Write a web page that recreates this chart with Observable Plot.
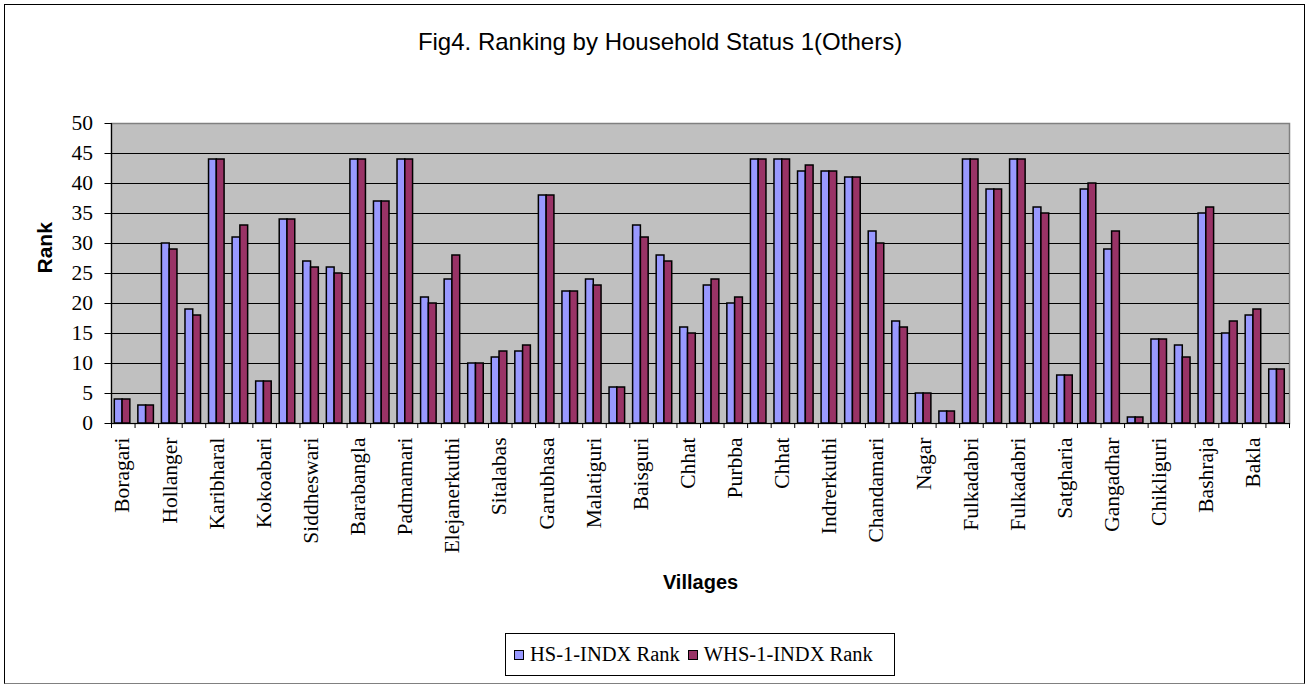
<!DOCTYPE html>
<html>
<head>
<meta charset="utf-8">
<script src="https://cdn.jsdelivr.net/npm/d3@7"></script>
<script src="https://cdn.jsdelivr.net/npm/@observablehq/plot@0.6"></script>
<style>
  html, body { margin: 0; padding: 0; background: #fff; overflow: hidden; }
  #wrap { position: relative; width: 1306px; height: 686px; }
  #border { position: absolute; left: 4px; top: 4px; width: 1301px; height: 680px; box-sizing: border-box; border: 1px solid #000; border-bottom-color: #808080; pointer-events: none; }
  #title { height: 73px; padding-top: 27px; line-height: 30px; font-family: "Liberation Sans", Arial, sans-serif; font-size: 24px; color: #000; text-align: center; padding-left: 14px; }
  #chart svg { display: block; }
  #legend { position: relative; margin-top: 18px; margin-left: 505px; width: 390px; height: 43px; box-sizing: border-box; border: 1px solid #000; display: flex; align-items: center; font-family: "Liberation Serif", "Times New Roman", serif; font-size: 20.5px; color: #000; }
  .item { display: flex; align-items: center; }
  .sw { width: 10px; height: 10px; box-sizing: border-box; border: 1px solid #000; margin-right: 6px; }
</style>
</head>
<body>
<div id="wrap">
  <div id="title">Fig4. Ranking by Household Status 1(Others)</div>
  <div id="chart"></div>
  <div id="legend"></div>
  <div id="border"></div>
</div>
<script>
const tickLabels = ["Boragari","Hollanger","Karibharal","Kokoabari","Siddheswari","Barabangla","Padmamari","Elejanerkuthi","Sitalabas","Garubhasa","Malatiguri","Baisguri","Chhat","Purbba","Chhat","Indrerkuthi","Chandamari","Nagar","Fulkadabri","Fulkadabri","Satgharia","Gangadhar","Chikliguri","Bashraja","Bakla"];
const hsRank  = [4,3,30,19,44,31,7,34,27,26,44,37,44,21,24,10,11,12,38,22,24,6,33,28,16,23,20,44,44,42,42,41,32,17,5,2,44,39,44,36,8,39,29,1,14,13,35,15,18,9];
const whsRank = [4,3,29,18,44,33,7,34,26,25,44,37,44,20,28,10,12,13,38,22,23,6,31,27,15,24,21,44,44,43,42,41,30,16,5,2,44,39,44,35,8,40,32,1,14,11,36,17,19,9];
const seriesNames = ["HS-1-INDX Rank", "WHS-1-INDX Rank"];
const seriesColors = ["#9999FF", "#993366"];
const yTicks = [0,5,10,15,20,25,30,35,40,45,50];

const nGroups = hsRank.length;
// position of bars within each category slot (fractions of a slot)
const gapL = 0.14, barW = 0.33;
const labelCenters = tickLabels.map((_, k) => 2 * k + gapL + barW);

const rows = [];
hsRank.forEach((v, i) => rows.push({i, s: 0, v}));
whsRank.forEach((v, i) => rows.push({i, s: 1, v}));

const chart = Plot.plot({
  width: 1306,
  height: 515,
  marginLeft: 111,
  marginRight: 17,
  marginTop: 23,
  marginBottom: 192,
  style: {fontFamily: "'Liberation Serif', 'Times New Roman', serif", fontSize: "21.5px", color: "#000", background: "transparent"},
  x: {domain: [0, nGroups]},
  y: {domain: [0, 50]},
  marks: [
    Plot.frame({fill: "#C0C0C0", stroke: "#808080", strokeWidth: 1.5}),
    Plot.ruleY(yTicks.filter(t => t > 0 && t < 50), {stroke: "#000", strokeWidth: 1}),
    Plot.rectY(rows, {
      x1: d => d.i + gapL + d.s * barW,
      x2: d => d.i + gapL + (d.s + 1) * barW,
      y1: 0,
      y2: "v",
      fill: d => seriesColors[d.s],
      stroke: "#000",
      strokeWidth: 1.5
    }),
    Plot.ruleX([0], {stroke: "#000", strokeWidth: 1.2}),
    Plot.ruleY([0], {stroke: "#000", strokeWidth: 1.2}),
    Plot.axisY({ticks: yTicks, tickSize: 6.5, tickPadding: 12, label: null, stroke: "#000", fill: "#000"}),
    Plot.axisX({ticks: d3.range(0, nGroups + 1), tickSize: 5, tickFormat: () => "", label: null, stroke: "#000"}),
    Plot.axisX({ticks: labelCenters, tickSize: 0, tickPadding: 14, tickRotate: -90, label: null, fill: "#000",
      tickFormat: v => tickLabels[Math.round((v - gapL - barW) / 2)]}),
    Plot.text(["Rank"], {frameAnchor: "left", dx: -66, dy: 0, rotate: -90, fontFamily: "'Liberation Sans', Arial, sans-serif", fontWeight: "bold", fontSize: 21, fill: "#000"}),
    Plot.text(["Villages"], {frameAnchor: "bottom", dy: 165, fontFamily: "'Liberation Sans', Arial, sans-serif", fontWeight: "bold", fontSize: 20, fill: "#000"})
  ]
});
document.getElementById("chart").appendChild(chart);

const legend = document.getElementById("legend");
seriesNames.forEach((name, k) => {
  const item = document.createElement("div");
  item.className = "item";
  item.style.marginLeft = k === 0 ? "8px" : "8px";
  const sw = document.createElement("div");
  sw.className = "sw";
  sw.style.background = seriesColors[k];
  const t = document.createElement("span");
  t.textContent = name;
  item.appendChild(sw);
  item.appendChild(t);
  legend.appendChild(item);
});
</script>
</body>
</html>
